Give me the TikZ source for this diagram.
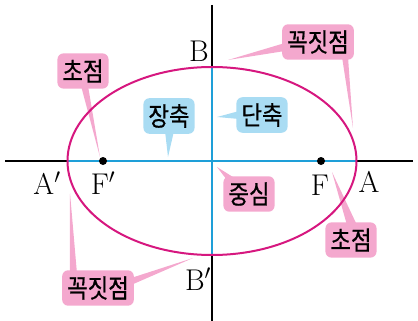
\documentclass[tikz,border=0pt]{standalone}
\usepackage{fix-cm}
\usepackage{fontspec}
\usepackage{tikz}
\usetikzlibrary{calc}
\newfontfamily\kofont[FakeStretch=0.86,FakeBold=0.6]{Noto Sans CJK KR}
\definecolor{Mag}{HTML}{D6177F}
\definecolor{Axis}{HTML}{1E9FD8}
\definecolor{PBg}{HTML}{F4A8CE}
\definecolor{BBg}{HTML}{A9DCF3}
\pgfdeclarelayer{bg}
\pgfsetlayers{bg,main}

\begin{document}
\begin{tikzpicture}[x=1pt, y=-1pt,
  pk/.style={rectangle, rounded corners=6pt, fill=PBg, inner xsep=5pt, inner ysep=6pt,
             font=\kofont\fontsize{26}{26}\selectfont},
  bl/.style={pk, fill=BBg},
  lbl/.style={font=\fontsize{30}{30}\selectfont, inner sep=0pt},
  ptl/.style={fill=PBg},
  btl/.style={fill=BBg},
  dot/.style={circle, fill=black, inner sep=0pt, minimum size=8pt},
  ax/.style={line width=1.5pt, draw=black},
  bax/.style={line width=1.5pt, draw=Axis},
]
\useasboundingbox (0,0) rectangle (418,321);
% axes and points
\coordinate (O)   at (212,161);
\coordinate (xl)  at (5,161);
\coordinate (xr)  at (413,161);
\coordinate (yt)  at (212,5);
\coordinate (yb)  at (212,321);
\coordinate (A)   at (356.5,161);
\coordinate (Ap)  at (67.5,161);
\coordinate (B)   at (212,67);
\coordinate (Bp)  at (212,255);
\draw[ax] (xl) -- (xr);
\draw[ax] (yt) -- (yb);
\draw[bax] (Ap) -- (A);
\draw[bax] (B) -- (Bp);
\draw[Mag, line width=2pt] (O) ellipse [x radius=144.5, y radius=94];
\node[dot] (F)  at (321,161) {};
\node[dot] (Fp) at (103,161) {};
% letters
\node[lbl] (lB)  at (199,51)  {B};
\node[lbl] (lBp) at (198,279) {B$'$};
\node[lbl] (lAp) at (47,183)  {A$'$};
\node[lbl] (lFp) at (103,183) {F$'$};
\node[lbl] (lF)  at (320,185) {F};
\node[lbl] (lA)  at (369,182) {A};
% callouts
\node[pk] (f1)  at (83,71)   {초점};
\node[pk] (v1)  at (318,42)  {꼭짓점};
\node[bl] (maj) at (169,116) {장축};
\node[bl] (min) at (262,115) {단축};
\node[pk] (cen) at (249,194) {중심};
\node[pk] (f2)  at (351,240) {초점};
\node[pk] (v2)  at (98,288)  {꼭짓점};
% tail tips
\coordinate (tFl)  at (100,157);
\coordinate (tB)   at (228,60);
\coordinate (tA)   at (353,128);
\coordinate (tMaj) at (168,157);
\coordinate (tMin) at (217,117);
\coordinate (tO)   at (217,167);
\coordinate (tFr)  at (332,172);
\coordinate (tAl)  at (70,193);
\coordinate (tBl)  at (193,258);
\begin{pgfonlayer}{bg}
\fill[ptl] ([xshift=-2,yshift=3]f1.south) -- (tFl) -- ([xshift=5,yshift=3]f1.south) -- cycle;
\fill[ptl] ([xshift=3,yshift=-1]v1.west) -- (tB) -- ([xshift=3,yshift=-9]v1.west) -- cycle;
\fill[ptl] ([xshift=24,yshift=3]v1.south) -- (tA) -- ([xshift=30,yshift=3]v1.south) -- cycle;
\fill[btl] ([xshift=-4,yshift=3]maj.south) -- (tMaj) -- ([xshift=5,yshift=3]maj.south) -- cycle;
\fill[btl] ([xshift=3,yshift=4]min.west) -- (tMin) -- ([xshift=3,yshift=-4]min.west) -- cycle;
\fill[ptl] ([xshift=3,yshift=-3]cen.north west) -- (tO) -- ([xshift=13,yshift=-3]cen.north west) -- cycle;
\fill[ptl] ([xshift=-4,yshift=-3]f2.north) -- (tFr) -- ([xshift=6,yshift=-3]f2.north) -- cycle;
\fill[ptl] ([xshift=8,yshift=-3]v2.north west) -- (tAl) -- ([xshift=15,yshift=-3]v2.north west) -- cycle;
\fill[ptl] ([xshift=-3,yshift=10]v2.east) -- (tBl) -- ([xshift=-3,yshift=3]v2.east) -- cycle;
\end{pgfonlayer}
\end{tikzpicture}
\end{document}
